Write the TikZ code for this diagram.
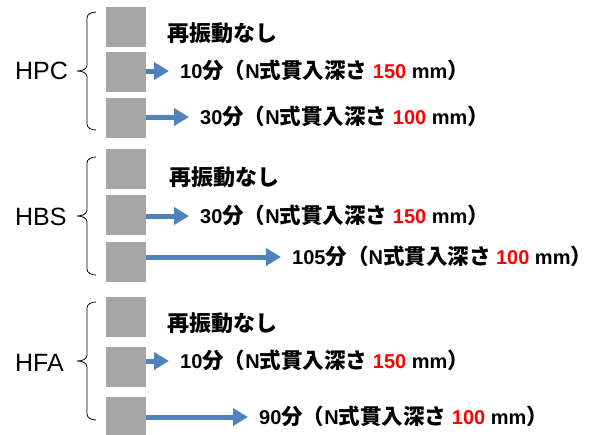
\documentclass[tikz,border=0pt]{standalone}
\usepackage{fontspec}
\setmainfont{Noto Sans CJK JP}
\newfontfamily\labfont{Liberation Sans}
\newcommand\latn[1]{{\labfont\bfseries\fontsize{20}{24}\selectfont #1}}
\newcommand\rparen{\makebox[10pt][l]{）}}
\usetikzlibrary{arrows.meta}
\definecolor{sqgray}{HTML}{A6A6A6}
\definecolor{arrblue}{HTML}{4F81BD}
\definecolor{numred}{HTML}{FF0000}
\begin{document}
\begin{tikzpicture}[x=1pt,y=-1pt,
  sqbox/.style={fill=sqgray, minimum width=40pt, minimum height=40pt, inner sep=0pt, outer sep=0pt, anchor=north west},
  txt/.style={font=\bfseries\fontsize{22}{26}\selectfont, anchor=west, inner sep=0pt, text height=17pt, text depth=1pt},
  rowtxt/.style={font=\bfseries\fontsize{21.5}{26}\selectfont, anchor=west, inner sep=0pt, text height=16pt, text depth=1pt},
  lbl/.style={font=\labfont\fontsize{25}{28}\selectfont, anchor=west, inner sep=0pt, text height=17.8pt, text depth=0pt},
  conn/.style={draw=arrblue, line width=5pt, -{Triangle[length=15pt,width=17pt]}, shorten >=11pt},
  brk/.pic={\draw[line width=0.8pt] (19,-59) to[out=180,in=90] (10,-53) -- (10,-6) to[out=270,in=0] (0,0) to[out=0,in=90] (10,6) -- (10,53) to[out=270,in=180] (19,59);}
]
\useasboundingbox (0,0) rectangle (594,434);
% ---------- HPC ----------
\node[lbl] (hpc) at (15,71) {HPC};
\pic at (77,71) {brk};
\node[sqbox] (p1) at (106,7) {};
\node[sqbox] (p2) at (106,52) {};
\node[sqbox] (p3) at (106,98) {};
\node[txt] (pt1) at (167,33) {再振動なし};
\node[rowtxt] (pt2) at (180,71) {\latn{10}分（\latn{N}式貫入深さ\latn{ \textcolor{numred}{150} mm}\rparen};
\node[rowtxt] (pt3) at (200,117) {\latn{30}分（\latn{N}式貫入深さ\latn{ \textcolor{numred}{100} mm}\rparen};
\draw[conn] (p2.east |- pt2.west) -- (pt2.west);
\draw[conn] (p3.east |- pt3.west) -- (pt3.west);
% ---------- HBS ----------
\node[lbl] (hbs) at (15,217) {HBS};
\pic at (77,216) {brk};
\node[sqbox] (b1) at (106,149) {};
\node[sqbox] (b2) at (106,195) {};
\node[sqbox] (b3) at (106,242) {};
\node[txt] (bt1) at (169,177) {再振動なし};
\node[rowtxt] (bt2) at (200,216) {\latn{30}分（\latn{N}式貫入深さ\latn{ \textcolor{numred}{150} mm}\rparen};
\node[rowtxt] (bt3) at (292,257) {\latn{105}分（\latn{N}式貫入深さ\latn{ \textcolor{numred}{100} mm}\rparen};
\draw[conn] (b2.east |- bt2.west) -- (bt2.west);
\draw[conn] (b3.east |- bt3.west) -- (bt3.west);
% ---------- HFA ----------
\node[lbl] (hfa) at (15,363) {HFA};
\pic at (77,361) {brk};
\node[sqbox] (f1) at (106,297) {};
\node[sqbox] (f2) at (106,347) {};
\node[sqbox] (f3) at (106,397) {};
\node[txt] (ft1) at (167,323) {再振動なし};
\node[rowtxt] (ft2) at (180,361) {\latn{10}分（\latn{N}式貫入深さ\latn{ \textcolor{numred}{150} mm}\rparen};
\node[rowtxt] (ft3) at (259,417) {\latn{90}分（\latn{N}式貫入深さ\latn{ \textcolor{numred}{100} mm}\rparen};
\draw[conn] (f2.east |- ft2.west) -- (ft2.west);
\draw[conn] (f3.east |- ft3.west) -- (ft3.west);
\end{tikzpicture}
\end{document}
